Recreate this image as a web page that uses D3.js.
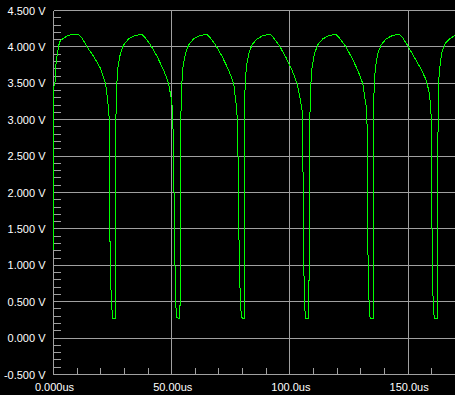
<!DOCTYPE html>
<html>
<head>
<meta charset="utf-8">
<script src="https://cdn.jsdelivr.net/npm/d3@7/dist/d3.min.js"></script>
<style>
  html, body { margin: 0; padding: 0; background: #000; }
  svg { display: block; }
</style>
</head>
<body>
<svg id="chart" width="455" height="395"></svg>
<script>
// ---- data (time in microseconds, voltage in volts) ----
const timeUs = [
  0, 0.15, 0.9, 1.0, 1.5, 2.2, 2.9, 4.3, 5.7, 7.8, 10.5, 12.1, 14.2, 17.0, 19.8, 22.0, 22.9, 23.5,
  23.65, 24.2, 24.6, 25.0, 26.3, 26.35,
  26.8, 27.3, 28.3, 29.7, 31.8, 34.6, 37.5, 38.9, 41.0, 43.8, 46.6, 48.7, 49.9, 50.4,
  50.8, 51.3, 51.7, 52.1, 53.1, 53.15, 53.7, 53.8,
  54.3, 54.8, 55.8, 57.2, 59.3, 62.1, 65.0, 66.4, 68.5, 71.3, 74.1, 76.2, 77.3, 77.9,
  78.35, 78.8, 79.2, 79.5, 80.6, 80.65,
  81.1, 81.6, 82.6, 84.0, 86.1, 88.9, 91.8, 93.2, 95.3, 98.1, 100.9, 103.0, 104.3, 105.2,
  105.6, 105.85, 106.3, 106.7, 108.0, 108.05, 108.35, 108.4,
  108.9, 109.4, 110.4, 111.8, 113.9, 116.7, 119.6, 121.0, 123.1, 125.9, 128.7, 130.8, 131.7, 132.2,
  132.7, 132.9, 133.35, 133.8, 134.2, 135.2, 135.25,
  135.7, 136.2, 137.2, 138.6, 140.7, 143.5, 146.4, 147.8, 149.6, 152.4, 155.2, 157.3, 158.7, 159.4, 159.7,
  160.0, 160.3, 160.7, 161.2, 162.5, 162.55, 162.9, 163.6, 164.4, 165.8, 167.9, 170.0
];
const volts = [
  1.21, 3.45, 3.55, 3.75, 3.88, 4.02, 4.09, 4.12, 4.15, 4.17, 4.17, 4.12, 4.00, 3.87, 3.71, 3.50, 3.27, 3.05,
  1.81, 0.76, 0.46, 0.27, 0.27, 2.96,
  3.50, 3.73, 3.91, 4.03, 4.11, 4.16, 4.17, 4.12, 4.03, 3.87, 3.68, 3.50, 3.27, 3.12,
  2.47, 1.16, 0.48, 0.28, 0.27, 0.45, 0.45, 2.98,
  3.50, 3.73, 3.91, 4.03, 4.11, 4.16, 4.17, 4.12, 4.03, 3.87, 3.68, 3.50, 3.20, 2.95,
  1.56, 0.77, 0.44, 0.28, 0.27, 3.00,
  3.50, 3.73, 3.91, 4.03, 4.11, 4.16, 4.17, 4.12, 4.03, 3.87, 3.68, 3.50, 3.30, 3.12,
  2.15, 1.00, 0.40, 0.27, 0.27, 0.79, 0.79, 3.00,
  3.50, 3.73, 3.91, 4.03, 4.11, 4.16, 4.17, 4.12, 4.03, 3.87, 3.68, 3.50, 3.30, 3.20,
  2.88, 1.39, 0.59, 0.29, 0.27, 0.27, 3.00,
  3.50, 3.73, 3.91, 4.03, 4.11, 4.16, 4.17, 4.12, 4.03, 3.87, 3.71, 3.57, 3.41, 3.23, 3.07,
  1.85, 0.86, 0.36, 0.27, 0.27, 2.58, 3.52, 3.78, 3.94, 4.05, 4.12, 4.16
];
const yTicks = [-0.5, 0, 0.5, 1, 1.5, 2, 2.5, 3, 3.5, 4, 4.5];
const yTickLabels = ["-0.500 V", "0.000 V", "0.500 V", "1.000 V", "1.500 V", "2.000 V",
                     "2.500 V", "3.000 V", "3.500 V", "4.000 V", "4.500 V"];
const xTicks = [0, 50, 100, 150];
const xTickLabels = ["0.000us", "50.00us", "100.0us", "150.0us"];
const xMinor = d3.range(10, 171, 10).filter(v => v % 50 !== 0);
const yMinor = d3.range(-4, 45, 1).map(v => v / 10).filter(v => Math.round(v * 10) % 5 !== 0);

// ---- layout ----
const svg = d3.select("#chart");
const W = 455, H = 395;
const x = d3.scaleLinear().domain([0, 170]).range([53.5, 455.4]);
const y = d3.scaleLinear().domain([-0.5, 4.5]).range([374.5, 10.5]);
const px = v => Math.floor(v) + 0.5;
const gridColor = "#a0a0a0";

svg.append("rect").attr("width", W).attr("height", H).attr("fill", "#000");

const g = svg.append("g").attr("shape-rendering", "crispEdges");

// horizontal grid lines
g.selectAll(".hgrid").data(yTicks).enter().append("line")
  .attr("x1", x(0)).attr("x2", W)
  .attr("y1", d => px(y(d))).attr("y2", d => px(y(d)))
  .attr("stroke", gridColor).attr("stroke-width", 1);

// vertical grid lines (incl. left axis)
g.selectAll(".vgrid").data(xTicks).enter().append("line")
  .attr("x1", d => px(x(d))).attr("x2", d => px(x(d)))
  .attr("y1", px(y(4.5))).attr("y2", px(y(-0.5)))
  .attr("stroke", gridColor).attr("stroke-width", 1);

// y minor ticks
g.selectAll(".ymin").data(yMinor).enter().append("line")
  .attr("x1", px(x(0))).attr("x2", px(x(0)) + 7)
  .attr("y1", d => px(y(d))).attr("y2", d => px(y(d)))
  .attr("stroke", gridColor);

// x minor ticks
g.selectAll(".xmin").data(xMinor).enter().append("line")
  .attr("x1", d => px(x(d))).attr("x2", d => px(x(d)))
  .attr("y1", px(y(-0.5))).attr("y2", px(y(-0.5)) - 7)
  .attr("stroke", gridColor);

// labels
svg.selectAll(".ylab").data(yTicks).enter().append("text")
  .attr("x", 45.5).attr("y", d => y(d) + 4)
  .attr("text-anchor", "end")
  .attr("font-family", "Liberation Sans, Arial, sans-serif")
  .attr("font-size", 11).attr("fill", "#fff")
  .text((d, i) => yTickLabels[i]);

svg.selectAll(".xlab").data(xTicks).enter().append("text")
  .attr("x", d => x(d) + 1).attr("y", 391)
  .attr("text-anchor", "middle")
  .attr("font-family", "Liberation Sans, Arial, sans-serif")
  .attr("font-size", 11).attr("fill", "#fff")
  .text((d, i) => xTickLabels[i]);

// trace
const pts = timeUs.map((t, i) => [t, volts[i]]);
const line = d3.line().x(d => x(d[0])).y(d => y(d[1]));
svg.append("path").datum(pts)
  .attr("d", line)
  .attr("fill", "none")
  .attr("stroke", "#00ff00")
  .attr("stroke-width", 1)
  .attr("shape-rendering", "crispEdges");
</script>
</body>
</html>
